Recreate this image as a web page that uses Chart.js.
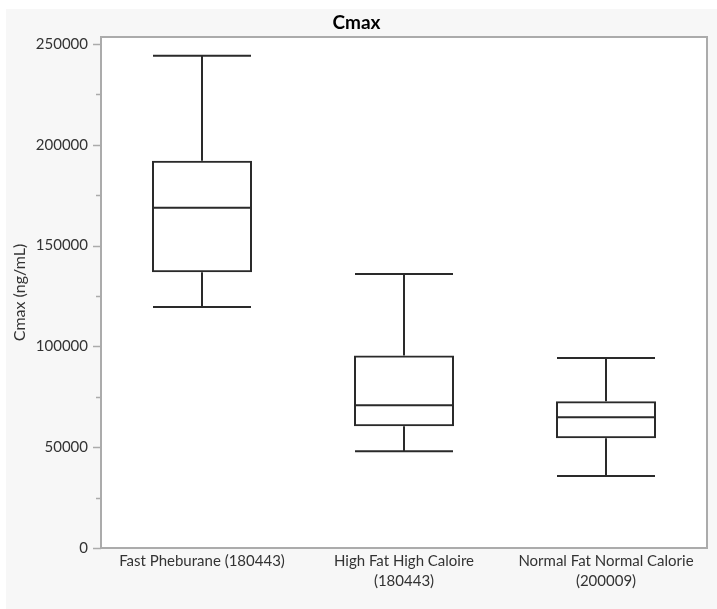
<!DOCTYPE html>
<html>
<head>
<meta charset="utf-8">
<script src="https://cdn.jsdelivr.net/npm/chart.js@4/dist/chart.umd.min.js"></script>
<style>
  html, body { margin: 0; padding: 0; background: #ffffff; }
  #wrap { position: absolute; left: 0; top: 0; width: 717px; height: 609px; }
</style>
</head>
<body>
<div id="wrap"><canvas id="chart" width="717" height="609"></canvas></div>
<script>
// Groups and five-number summaries for Cmax (ng/mL)
const categories = [
  ["Fast Pheburane (180443)"],
  ["High Fat High Caloire", "(180443)"],
  ["Normal Fat Normal Calorie", "(200009)"]
];
const whiskerLow  = [119500,  48000,  35700];
const quartile1   = [136800,  60400,  54400];
const median      = [168800,  70800,  64900];
const quartile3   = [192100,  95500,  72800];
const whiskerHigh = [244200, 135900,  94200];

// value-axis ticks: every value gets a tick mark, labelled ones get text
const yTickValues  = [0, 25000, 50000, 75000, 100000, 125000, 150000, 175000, 200000, 225000, 250000];
const yLabelValues = [0, 50000, 100000, 150000, 200000, 250000];
const yMin = 0;
const yMax = 253500;

const FONT = "Lato, 'Open Sans', sans-serif";
const LINE = '#2a2a2a';
const FRAME = '#ababab';

const framePlugin = {
  id: 'frame',
  beforeDraw(chart) {
    const { ctx, chartArea: a } = chart;
    ctx.save();
    ctx.fillStyle = '#ffffff';
    ctx.fillRect(0, 0, chart.width, chart.height);
    ctx.fillStyle = '#f7f7f7';
    ctx.fillRect(6, 9, chart.width - 6, chart.height - 9);
    ctx.fillStyle = '#ffffff';
    ctx.fillRect(a.left, a.top, a.right - a.left, a.bottom - a.top);
    ctx.restore();
  },
  afterDraw(chart) {
    const { ctx, chartArea: a } = chart;
    const y = chart.scales.y;
    ctx.save();
    ctx.strokeStyle = FRAME;
    ctx.lineWidth = 2;
    ctx.strokeRect(a.left, a.top, a.right - a.left, a.bottom - a.top);
    // major and minor tick marks on the value axis
    ctx.lineWidth = 1.5;
    yTickValues.forEach(v => {
      const py = Math.round(y.getPixelForValue(v)) + 0.5;
      const len = yLabelValues.includes(v) ? 8 : 5;
      ctx.beginPath();
      ctx.moveTo(a.left - len, py);
      ctx.lineTo(a.left, py);
      ctx.stroke();
    });
    ctx.restore();
  }
};

const boxPlugin = {
  id: 'boxWhiskers',
  afterDatasetsDraw(chart) {
    const { ctx } = chart;
    const y = chart.scales.y;
    const bars = chart.getDatasetMeta(0).data;
    ctx.save();
    ctx.strokeStyle = LINE;
    ctx.lineWidth = 2;
    bars.forEach((bar, i) => {
      const half = bar.width / 2;
      const x0 = bar.x - half + 1, x1 = bar.x + half - 1;
      const pHigh = y.getPixelForValue(whiskerHigh[i]);
      const pQ3 = y.getPixelForValue(quartile3[i]);
      const pMed = y.getPixelForValue(median[i]);
      const pQ1 = y.getPixelForValue(quartile1[i]);
      const pLow = y.getPixelForValue(whiskerLow[i]);
      ctx.beginPath();
      // upper whisker and cap
      ctx.moveTo(bar.x, pQ3); ctx.lineTo(bar.x, pHigh);
      ctx.moveTo(x0, pHigh); ctx.lineTo(x1, pHigh);
      // lower whisker and cap
      ctx.moveTo(bar.x, pQ1); ctx.lineTo(bar.x, pLow);
      ctx.moveTo(x0, pLow); ctx.lineTo(x1, pLow);
      // median
      ctx.moveTo(x0, pMed); ctx.lineTo(x1, pMed);
      ctx.stroke();
    });
    ctx.restore();
  }
};

new Chart(document.getElementById('chart'), {
  type: 'bar',
  data: {
    labels: categories,
    datasets: [{
      label: 'Cmax',
      data: quartile1.map((q, i) => [q, quartile3[i]]),
      backgroundColor: 'rgba(255,255,255,0)',
      borderColor: LINE,
      borderWidth: 2,
      borderSkipped: false,
      barPercentage: 0.495,
      categoryPercentage: 1
    }]
  },
  options: {
    responsive: false,
    animation: false,
    layout: { padding: { left: 6, right: 10, top: 0, bottom: 0 } },
    plugins: {
      legend: { display: false },
      tooltip: { enabled: false },
      title: {
        display: true,
        text: 'Cmax',
        color: '#000000',
        font: { family: FONT, size: 19, weight: 'bold', lineHeight: 1.2 },
        padding: { top: 11, bottom: 3.2 }
      }
    },
    scales: {
      x: {
        grid: { display: false, drawTicks: false },
        border: { display: false },
        ticks: {
          color: '#333333',
          font: { family: FONT, size: 15, lineHeight: 1.35 },
          padding: 3,
          maxRotation: 0,
          autoSkip: false
        },
        afterFit(scale) { scale.height = 61; }
      },
      y: {
        min: yMin,
        max: yMax,
        border: { display: false },
        grid: { display: true, drawOnChartArea: false, drawTicks: true, tickLength: 8, color: 'rgba(0,0,0,0)' },
        title: {
          display: true,
          text: 'Cmax (ng/mL)',
          color: '#333333',
          font: { family: FONT, size: 16, lineHeight: 1.2 },
          padding: { top: 4, bottom: 0 }
        },
        ticks: {
          color: '#333333',
          font: { family: FONT, size: 15 },
          padding: 5,
          callback: v => (yLabelValues.includes(v) ? String(v) : '')
        },
        afterBuildTicks(scale) {
          scale.ticks = yTickValues.map(v => ({ value: v }));
        },
        afterFit(scale) { scale.width = 95; }
      }
    }
  },
  plugins: [framePlugin, boxPlugin]
});
</script>
</body>
</html>
